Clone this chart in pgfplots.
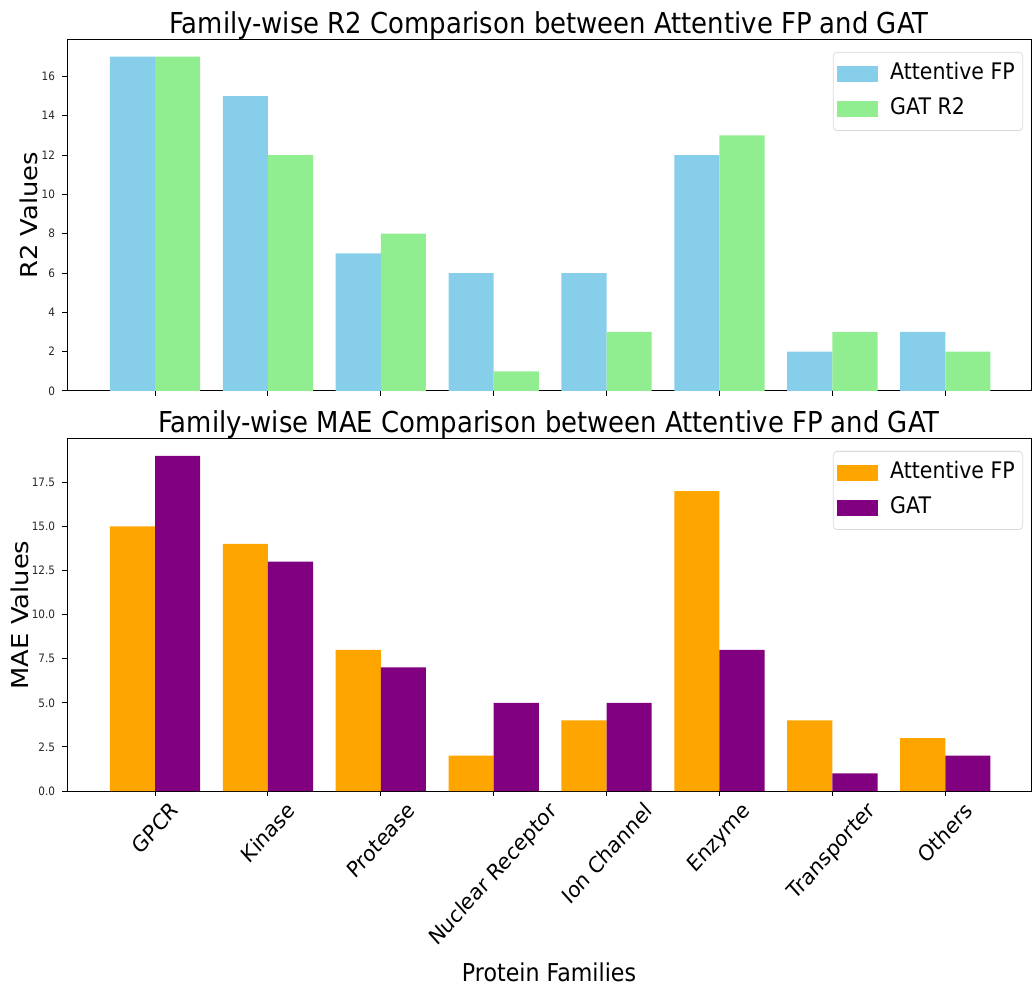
\documentclass[border=0pt]{standalone}
\usepackage{pgfplots}
\pgfplotsset{compat=1.18}
\usepackage{fontspec}
\setmainfont{DejaVu Sans}
\definecolor{skyblue}{HTML}{87CEEB}
\definecolor{lightgreen}{HTML}{90EE90}
\definecolor{mplorange}{HTML}{FFA500}
\definecolor{mplpurple}{HTML}{800080}
\begin{document}
\scalebox{0.9}[1]{%
\begin{tikzpicture}
\useasboundingbox (0,0) rectangle (573.33pt,492.5pt);
\pgfplotsset{
  common/.style={
    scale only axis, width=535.6pt, height=175.5pt,
    xmin=-0.78, xmax=7.76,
    xtick={0,...,7},
    ybar, bar width=0.4, bar shift=0pt,
    axis line style={black, line width=0.5pt},
    tick style={black, line width=0.5pt},
    major tick length=2.6pt,
    xtick pos=bottom, ytick pos=left,
    tick align=outside,
    ymin=0,
    /pgf/number format/assume math mode=true,
    yticklabel style={font=\fontsize{5.8}{7}\selectfont, text=black!85, xshift=-0.5pt},
    title style={font=\fontsize{14.4}{16}\selectfont, at={(axis description cs:0.5,1)}, anchor=base, yshift=-3pt},
    legend cell align=left,
    legend image code/.code={\fill[#1, sharp corners] (0pt,-4pt) rectangle (22.8pt,4pt);},
    legend style={at={(axis description cs:0.9917,0.966)}, anchor=north east,
      draw=black!15, rounded corners=2pt, fill=white,
      font=\fontsize{11.4}{13}\selectfont,
      inner xsep=1.9pt, inner ysep=2.8pt,
      nodes={text height=8.5pt, text depth=2.5pt, inner sep=2.5pt},
      row sep=1.5pt, /tikz/column sep=4.4pt},
  }
}
\begin{axis}[common,
  at={(37.2pt,472.5pt)}, anchor=north west,
  ymax=17.85, ytick={0,2,...,16},
  xticklabels={},
  title={Family-wise R2 Comparison between Attentive FP and GAT},
  ylabel={R2 Values},
  ylabel style={at={(axis description cs:-0.040,0.5)}, anchor=center, font=\fontsize{12.9}{14}\selectfont},
]
\addplot[fill=skyblue, draw=none, bar shift=-0.2] coordinates {(0,17) (1,15) (2,7) (3,6) (4,6) (5,12) (6,2) (7,3)};
\addplot[fill=lightgreen, draw=none, bar shift=0.2] coordinates {(0,17) (1,12) (2,8) (3,1) (4,3) (5,13) (6,3) (7,2)};
\legend{Attentive FP, GAT R2}
\end{axis}
\begin{axis}[common,
  at={(37.2pt,273pt)}, anchor=north west, height=176pt,
  ymax=19.95, ytick={0,2.5,...,17.5},
  yticklabel={\pgfmathprintnumber[fixed,fixed zerofill,precision=1]{\tick}},
  xticklabels={\rotatebox{45}{GPCR},\rotatebox{45}{Kinase},\rotatebox{45}{Protease},\rotatebox{45}{Nuclear Receptor},\rotatebox{45}{Ion Channel},\rotatebox{45}{Enzyme},\rotatebox{45}{Transporter},\rotatebox{45}{Others}},
  xticklabel style={font=\fontsize{11}{13}\selectfont, anchor=north, inner sep=1pt, yshift=-1pt},
  title={Family-wise MAE Comparison between Attentive FP and GAT},
  ylabel={MAE Values},
  ylabel style={at={(axis description cs:-0.049,0.5)}, anchor=center, font=\fontsize{12.9}{14}\selectfont},
  xlabel={Protein Families},
  xlabel style={at={(axis description cs:0.5,0)}, anchor=center, yshift=-90.5pt, font=\fontsize{12.3}{14}\selectfont},
]
\addplot[fill=mplorange, draw=none, bar shift=-0.2] coordinates {(0,15) (1,14) (2,8) (3,2) (4,4) (5,17) (6,4) (7,3)};
\addplot[fill=mplpurple, draw=none, bar shift=0.2] coordinates {(0,19) (1,13) (2,7) (3,5) (4,5) (5,8) (6,1) (7,2)};
\legend{Attentive FP, GAT}
\end{axis}
\end{tikzpicture}%
}
\end{document}
